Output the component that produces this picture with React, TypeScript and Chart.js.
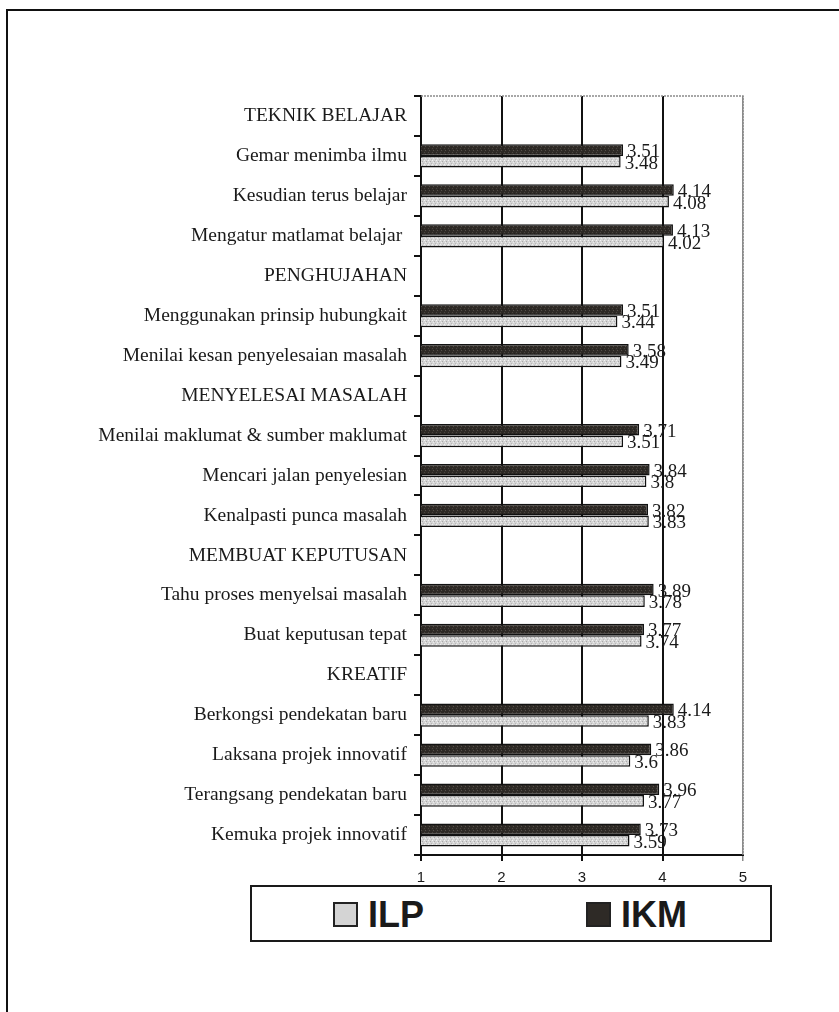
import React, { useEffect, useRef } from "react";
import { Chart, registerables } from "chart.js";

Chart.register(...registerables);

const categories = [
  "TEKNIK BELAJAR",
  "Gemar menimba ilmu",
  "Kesudian terus belajar",
  "Mengatur matlamat belajar ",
  "PENGHUJAHAN",
  "Menggunakan prinsip hubungkait",
  "Menilai kesan penyelesaian masalah",
  "MENYELESAI MASALAH",
  "Menilai maklumat & sumber maklumat",
  "Mencari jalan penyelesian",
  "Kenalpasti punca masalah",
  "MEMBUAT KEPUTUSAN",
  "Tahu proses menyelsai masalah",
  "Buat keputusan tepat",
  "KREATIF",
  "Berkongsi pendekatan baru",
  "Laksana projek innovatif",
  "Terangsang pendekatan baru",
  "Kemuka projek innovatif",
];

const ikmValues = [null, 3.51, 4.14, 4.13, null, 3.51, 3.58, null, 3.71, 3.84, 3.82, null, 3.89, 3.77, null, 4.14, 3.86, 3.96, 3.73];
const ilpValues = [null, 3.48, 4.08, 4.02, null, 3.44, 3.49, null, 3.51, 3.8, 3.83, null, 3.78, 3.74, null, 3.83, 3.6, 3.77, 3.59];

const seriesNames = ["ILP", "IKM"];
const xMin = 1;
const xMax = 5;

const SERIF = '"Liberation Serif", "Times New Roman", serif';
const SANS = '"Liberation Sans", Arial, sans-serif';

function makePattern(base: string, dots: string[]): CanvasPattern | string {
  const c = document.createElement("canvas");
  c.width = 4;
  c.height = 4;
  const g = c.getContext("2d");
  if (!g) return base;
  g.fillStyle = base;
  g.fillRect(0, 0, 4, 4);
  const pts = [
    [0, 0],
    [2, 1],
    [1, 2],
    [3, 3],
  ];
  pts.forEach((p, i) => {
    g.fillStyle = dots[i % dots.length];
    g.fillRect(p[0], p[1], 1, 1);
  });
  const pat = g.createPattern(c, "repeat");
  return pat || base;
}

const valueLabelPlugin = {
  id: "valueLabels",
  afterDatasetsDraw(chart: any) {
    const ctx = chart.ctx;
    ctx.save();
    ctx.font = `19px ${SERIF}`;
    ctx.fillStyle = "#1a1a1a";
    ctx.textAlign = "left";
    ctx.textBaseline = "middle";
    chart.data.datasets.forEach((ds: any, di: number) => {
      const meta = chart.getDatasetMeta(di);
      meta.data.forEach((el: any, i: number) => {
        const v = ds.data[i];
        if (v === null || v === undefined) return;
        ctx.fillText(String(v), el.x + 4, el.y + 2);
      });
    });
    ctx.restore();
  },
};

const framePlugin = {
  id: "plotFrame",
  beforeDatasetsDraw(chart: any) {
    const { ctx, chartArea } = chart;
    ctx.save();
    ctx.strokeStyle = "#8a8a8a";
    ctx.lineWidth = 1.5;
    ctx.setLineDash([2, 1]);
    ctx.beginPath();
    ctx.moveTo(chartArea.left, chartArea.top);
    ctx.lineTo(chartArea.right, chartArea.top);
    ctx.lineTo(chartArea.right, chartArea.bottom);
    ctx.stroke();
    ctx.restore();
  },
};

export default function App() {
  const canvasRef = useRef<HTMLCanvasElement | null>(null);

  useEffect(() => {
    if (!canvasRef.current) return;
    const ilpFill = makePattern("#d4d4d4", ["#f2f2f2", "#a9a9a9", "#ececec", "#b8b8b8"]);
    const ikmFill = makePattern("#2e2a26", ["#4a4540", "#221f1c", "#56504a", "#2a2622"]);

    const chart = new Chart(canvasRef.current, {
      type: "bar",
      data: {
        labels: categories,
        datasets: [
          {
            label: seriesNames[1],
            data: ikmValues as any,
            backgroundColor: ikmFill as any,
            borderColor: "#111",
            borderWidth: 1.5,
            categoryPercentage: 0.58,
            barPercentage: 1,
          },
          {
            label: seriesNames[0],
            data: ilpValues as any,
            backgroundColor: ilpFill as any,
            borderColor: "#111",
            borderWidth: 1.5,
            categoryPercentage: 0.58,
            barPercentage: 1,
          },
        ],
      },
      options: {
        indexAxis: "y",
        responsive: false,
        animation: false,
        devicePixelRatio: 1,
        layout: {
          padding: { top: 96, right: 96, bottom: 127, left: 0 },
        },
        plugins: {
          legend: { display: false },
          tooltip: { enabled: false },
        },
        scales: {
          y: {
            type: "category",
            offset: true,
            afterFit: (scale: any) => {
              scale.width = 421;
            },
            grid: {
              offset: true,
              drawOnChartArea: false,
              drawTicks: true,
              tickLength: 7,
              color: "#111",
              lineWidth: 2,
            },
            border: { display: true, color: "#111", width: 2 },
            ticks: {
              color: "#1a1a1a",
              padding: 7,
              autoSkip: false,
              font: { family: SERIF, size: 19.5 },
            },
          },
          x: {
            type: "linear",
            min: xMin,
            max: xMax,
            afterFit: (scale: any) => {
              scale.height = 30;
            },
            grid: {
              drawOnChartArea: true,
              drawTicks: true,
              tickLength: 6,
              color: (c: any) => (c.tick && c.tick.value === xMax ? "#8a8a8a" : "#111"),
              lineWidth: (c: any) => (c.tick && c.tick.value === xMax ? 1.5 : 2),
            },
            border: { display: true, color: "#111", width: 2 },
            ticks: {
              stepSize: 1,
              color: "#1a1a1a",
              padding: 8,
              font: { family: SANS, size: 15 },
            },
          },
        },
      } as any,
      plugins: [framePlugin, valueLabelPlugin],
    });
    return () => chart.destroy();
  }, []);

  const swatch = (fill: string): React.CSSProperties => ({
    width: 25,
    height: 25,
    boxSizing: "border-box",
    border: "2px solid #222",
    background: fill,
    marginRight: 10,
  });

  const legendText: React.CSSProperties = {
    font: `bold 36px ${SANS}`,
    lineHeight: "31px",
    color: "#1a1a1a",
  };

  return (
    <div style={{ position: "absolute", left: 0, top: 0, width: 839, height: 1012, background: "#fff", overflow: "hidden" }}>
      <div
        style={{
          position: "absolute",
          left: 6,
          top: 9,
          right: 0,
          bottom: 0,
          borderTop: "2px solid #111",
          borderLeft: "2px solid #111",
        }}
      />
      <canvas ref={canvasRef} width={839} height={1012} style={{ position: "absolute", left: 0, top: 0, width: 839, height: 1012 }} />
      <div
        style={{
          position: "absolute",
          left: 250,
          top: 885,
          width: 522,
          height: 57,
          boxSizing: "border-box",
          border: "2px solid #1a1a1a",
          background: "#fff",
        }}
      />
      <div style={{ position: "absolute", left: 333, top: 899, height: 31, display: "flex", alignItems: "center" }}>
        <div style={swatch("#d4d4d4")} />
        <span style={legendText}>{seriesNames[0]}</span>
      </div>
      <div style={{ position: "absolute", left: 586, top: 899, height: 31, display: "flex", alignItems: "center" }}>
        <div style={swatch("#2e2a26")} />
        <span style={legendText}>{seriesNames[1]}</span>
      </div>
    </div>
  );
}
